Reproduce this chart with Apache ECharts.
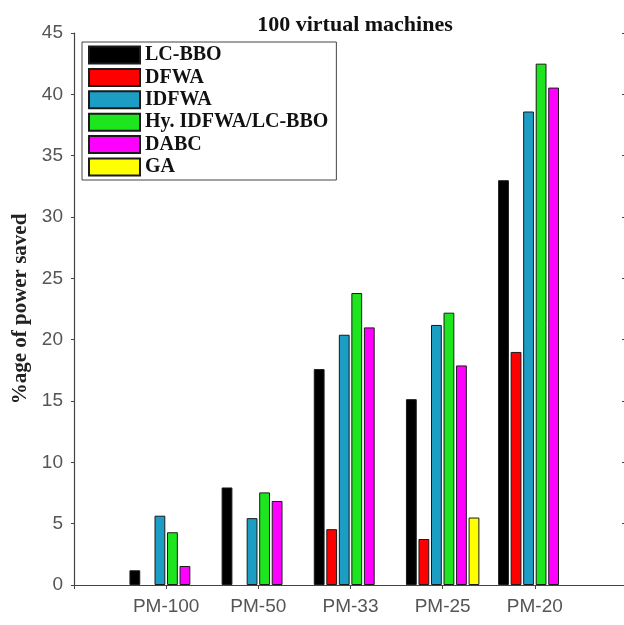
<!DOCTYPE html>
<html>
<head>
<meta charset="utf-8">
<script src="https://cdn.jsdelivr.net/npm/echarts@6/dist/echarts.min.js"></script>
<style>
  html, body { margin: 0; padding: 0; background: #fff; }
  #chart { width: 624px; height: 625px; }
</style>
</head>
<body>
<div id="chart"></div>
<script>
// Power saved per placement policy, 100 VMs
const categories = ['PM-100', 'PM-50', 'PM-33', 'PM-25', 'PM-20'];
const seriesNames = ['LC-BBO', 'DFWA', 'IDFWA', 'Hy. IDFWA/LC-BBO', 'DABC', 'GA'];
const lcbbo = [1.2, 7.95, 17.6, 15.15, 33.0];
const dfwa = [0, 0, 4.55, 3.75, 19.0];
const idfwa = [5.65, 5.45, 20.4, 21.2, 38.6];
const hybrid = [4.3, 7.55, 23.8, 22.2, 42.5];
const dabc = [1.55, 6.85, 21.0, 17.9, 40.55];
const ga = [0, 0, 0, 5.5, 0];
const yTicks = [0, 5, 10, 15, 20, 25, 30, 35, 40, 45];

const colors = ['#000000', '#ff0000', '#1c9dc4', '#1ee61e', '#ff00ff', '#ffff00'];
const values = [lcbbo, dfwa, idfwa, hybrid, dabc, ga];

// padded axis: blank slots at each end so groups sit at 1..5 of a 0..6 range
const axisCats = [''].concat(categories, ['']);

const chart = echarts.init(document.getElementById('chart'), null, { renderer: 'canvas' });

// zero-height bars carry no outline
const toItem = v => (v === 0 ? { value: 0, itemStyle: { borderWidth: 0 } } : v);

const series = seriesNames.map((name, i) => ({
  name: name,
  type: 'bar',
  data: [null].concat(values[i].map(toItem), [null]),
  barWidth: 10.8,
  barGap: '16%',
  itemStyle: { color: colors[i], borderColor: '#1a1a1a', borderWidth: 1 },
  emphasis: { disabled: true }
}));

chart.setOption({
  animation: false,
  title: {
    text: '100 virtual machines',
    left: 350,
    textAlign: 'center',
    top: 9,
    textStyle: { fontFamily: 'Liberation Serif', fontWeight: 'bold', fontSize: 22, color: '#111' }
  },
  legend: {
    orient: 'vertical',
    left: 82,
    top: 42,
    data: seriesNames,
    icon: 'rect',
    itemWidth: 51,
    itemHeight: 17,
    itemGap: 2.4,
    padding: [3, 8, 3, 6],
    borderColor: '#444',
    borderWidth: 1,
    backgroundColor: '#fff',
    textStyle: { fontFamily: 'Liberation Serif', fontWeight: 'bold', fontSize: 20, lineHeight: 17, color: '#111' }
  },
  grid: { left: 74, right: -3, top: 33, bottom: 40, outerBoundsMode: 'none', containLabel: false },
  xAxis: [
    {
      type: 'category',
      data: axisCats,
      boundaryGap: false,
      axisLine: { lineStyle: { color: '#444', width: 1.2 } },
      axisTick: { show: false },
      axisLabel: { margin: 12, fontFamily: 'Liberation Sans', fontSize: 19, color: '#555' }
    },
    {
      type: 'category',
      data: axisCats,
      boundaryGap: false,
      position: 'top',
      axisLine: { lineStyle: { color: '#444', width: 1.2 } },
      axisTick: { show: true, inside: true, length: 4, lineStyle: { color: '#444' } },
      axisLabel: { show: false }
    }
  ],
  yAxis: [
    {
      type: 'value',
      min: yTicks[0],
      max: yTicks[yTicks.length - 1],
      interval: 5,
      name: '%age of power saved',
      nameLocation: 'middle',
      nameGap: 35,
      nameTextStyle: { fontFamily: 'Liberation Serif', fontWeight: 'bold', fontSize: 21, color: '#222' },
      axisLine: { show: true, lineStyle: { color: '#444', width: 1.2 } },
      axisTick: { show: true, length: 3, lineStyle: { color: '#444' } },
      axisLabel: { margin: 11, fontFamily: 'Liberation Sans', fontSize: 19, color: '#555' },
      splitLine: { show: false }
    },
    {
      type: 'value',
      min: yTicks[0],
      max: yTicks[yTicks.length - 1],
      interval: 5,
      position: 'right',
      axisLine: { show: true, lineStyle: { color: '#444' } },
      axisTick: { show: true, inside: true, length: 5, lineStyle: { color: '#444' } },
      axisLabel: { show: false },
      splitLine: { show: false }
    }
  ],
  series: series
});
</script>
</body>
</html>
